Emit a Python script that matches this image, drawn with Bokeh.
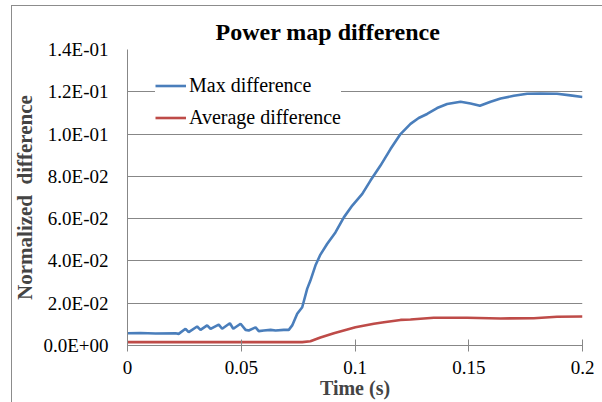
from bokeh.plotting import figure
from bokeh.models import (ColumnDataSource, FixedTicker, Legend, LegendItem,
                          Range1d, InlineStyleSheet)
from bokeh.embed import file_html
from bokeh.resources import INLINE

# ---- data ----
time_max = [0.0, 0.0057, 0.0123, 0.0211, 0.0225, 0.0255, 0.0269, 0.0306, 0.0321,
            0.0350, 0.0365, 0.0401, 0.0416, 0.0450, 0.0465, 0.0497, 0.0519, 0.0533,
            0.0563, 0.0577, 0.0599, 0.0629, 0.0651, 0.0687, 0.0709, 0.0724, 0.0746,
            0.0768, 0.0790, 0.0804, 0.0826, 0.0848, 0.0878, 0.0914, 0.0951, 0.0988,
            0.1032, 0.1068, 0.1112, 0.1156, 0.1200, 0.1244, 0.1280, 0.1317, 0.1361,
            0.1405, 0.1464, 0.1508, 0.1549, 0.1596, 0.1640, 0.1698, 0.1757, 0.1815,
            0.1888, 0.1947, 0.2000]
max_diff = [0.0058, 0.0059, 0.0057, 0.0058, 0.0055, 0.0079, 0.0063, 0.0090, 0.0074,
            0.0095, 0.0079, 0.0099, 0.0079, 0.0105, 0.0079, 0.0103, 0.0074, 0.0071,
            0.0086, 0.0068, 0.0071, 0.0074, 0.0071, 0.0074, 0.0074, 0.0095, 0.0150,
            0.0181, 0.0269, 0.0307, 0.0378, 0.0430, 0.0481, 0.0535, 0.0606, 0.0662,
            0.0717, 0.0780, 0.0851, 0.0929, 0.1000, 0.1048, 0.1076, 0.1095, 0.1123,
            0.1142, 0.1153, 0.1145, 0.1134, 0.1153, 0.1168, 0.1181, 0.1191, 0.1192,
            0.1191, 0.1183, 0.1175]

time_avg = [0.0, 0.0768, 0.0804, 0.0848, 0.0907, 0.1002, 0.1083, 0.1127, 0.1200,
            0.1244, 0.1346, 0.1493, 0.1640, 0.1786, 0.1888, 0.2000]
avg_diff = [0.0016, 0.0016, 0.0020, 0.0038, 0.0058, 0.0086, 0.0103, 0.0110, 0.0121,
            0.0123, 0.0131, 0.0131, 0.0128, 0.0129, 0.0136, 0.0137]

x_ticks = [0.0, 0.05, 0.1, 0.15, 0.2]
x_tick_labels = ["0", "0.05", "0.1", "0.15", "0.2"]
y_ticks = [0.0, 0.02, 0.04, 0.06, 0.08, 0.10, 0.12, 0.14]
y_tick_labels = ["0.0E+00", "2.0E-02", "4.0E-02", "6.0E-02", "8.0E-02",
                 "1.0E-01", "1.2E-01", "1.4E-01"]

series_names = ["Max difference", "Average difference"]
title_text = "Power map difference"
x_label = "Time (s)"
y_label = "Normalized\u00a0 difference"

# ---- styling ----
SERIF = "Liberation Serif"
GRID = "#878787"
BLUE = "#4A7EBB"
RED = "#BE4B48"

border_css = InlineStyleSheet(css="""
:host::after {
  content: "";
  position: absolute;
  left: 11px;
  top: 5px;
  width: 591px;
  height: 397px;
  box-sizing: border-box;
  border-left: 1px solid #8c8c8c;
  border-top: 1px solid #8c8c8c;
  pointer-events: none;
}
""")

p = figure(width=602, height=402, output_backend="svg", toolbar_location=None,
           x_range=Range1d(0, 0.2), y_range=Range1d(0, 0.14),
           min_border_left=127, min_border_right=20, min_border_top=49,
           min_border_bottom=57, stylesheets=[border_css])

p.title.text = title_text
p.title.align = "left"
p.title.offset = 88
p.title.text_font = SERIF
p.title.text_font_size = "24px"
p.title.text_font_style = "bold"
p.title.text_color = "black"
p.title.standoff = 10

p.outline_line_color = None
p.background_fill_color = "white"
p.border_fill_color = "white"

# x axis
xa = p.xaxis[0]
xa.ticker = FixedTicker(ticks=x_ticks)
xa.major_label_overrides = {t: l for t, l in zip(x_ticks, x_tick_labels)}
xa.axis_line_color = GRID
xa.major_tick_line_color = GRID
xa.major_tick_in = 6
xa.major_tick_out = 6
xa.minor_tick_line_color = None
xa.major_label_standoff = 9
xa.major_label_text_font = SERIF
xa.major_label_text_font_size = "19px"
xa.major_label_text_color = "black"
xa.axis_label = x_label
xa.axis_label_text_font = SERIF
xa.axis_label_text_font_size = "20px"
xa.axis_label_text_font_style = "bold"
xa.axis_label_standoff = 0

# y axis
ya = p.yaxis[0]
ya.ticker = FixedTicker(ticks=y_ticks)
ya.major_label_overrides = {t: l for t, l in zip(y_ticks, y_tick_labels)}
ya.axis_line_color = GRID
ya.major_tick_line_color = None
ya.major_tick_in = 0
ya.major_tick_out = 0
ya.minor_tick_line_color = None
ya.major_label_standoff = 19
ya.major_label_text_font = SERIF
ya.major_label_text_font_size = "19px"
ya.major_label_text_color = "black"
ya.axis_label = y_label
ya.axis_label_text_font = SERIF
ya.axis_label_text_font_size = "21px"
ya.axis_label_text_font_style = "bold"
ya.axis_label_standoff = 3

p.xgrid.grid_line_color = None
p.ygrid.grid_line_color = GRID
p.ygrid.grid_line_width = 1

src_max = ColumnDataSource(dict(t=time_max, v=max_diff))
src_avg = ColumnDataSource(dict(t=time_avg, v=avg_diff))
r_max = p.line("t", "v", source=src_max, line_color=BLUE, line_width=2.6)
r_avg = p.line("t", "v", source=src_avg, line_color=RED, line_width=2.6)

legend = Legend(items=[LegendItem(label=series_names[0], renderers=[r_max]),
                       LegendItem(label=series_names[1], renderers=[r_avg])],
                location=(28, 216.5), margin=0, padding=2, spacing=9,
                glyph_width=31, glyph_height=23, label_height=23,
                label_standoff=3, label_text_font=SERIF,
                label_text_font_size="20px", label_text_color="black",
                background_fill_color="white", background_fill_alpha=1.0,
                border_line_color=None)
p.add_layout(legend)

open("out.html", "w").write(file_html(p, INLINE))
